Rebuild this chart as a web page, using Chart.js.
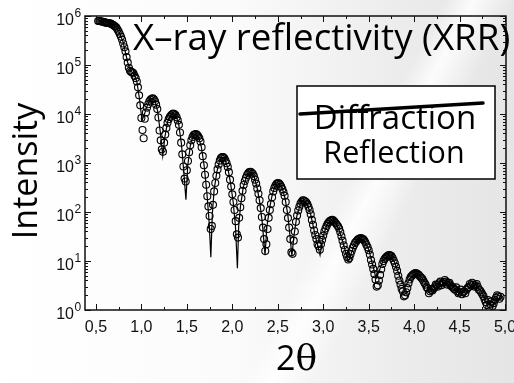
<!DOCTYPE html>
<html>
<head>
<meta charset="utf-8">
<title>X-ray reflectivity</title>
<script src="https://cdn.jsdelivr.net/npm/chart.js@4.4.1/dist/chart.umd.min.js"></script>
<style>
  html, body { margin: 0; padding: 0; }
  body {
    width: 514px;
    height: 383px;
    overflow: hidden;
    background:
      linear-gradient(118deg, rgba(255,255,255,0) 62%, rgba(255,255,255,0.85) 66%, rgba(255,255,255,0) 72%),
      linear-gradient(90deg, #ffffff 0%, #fbfbfb 45%, #ececec 78%, #e5e5e5 100%);
  }
  canvas { display: block; }
</style>
</head>
<body>
<canvas id="xrr" width="514" height="383"></canvas>
<script>
// measured reflectivity (open circles), one row per 0.1 deg
const twoTheta = [
  0.525, 0.5375, 0.55, 0.5625, 0.575, 0.5875, 0.6, 0.6125,
  0.625, 0.6375, 0.65, 0.6625, 0.675, 0.6875, 0.7, 0.7125,
  0.725, 0.7375, 0.75, 0.7625, 0.775, 0.7875, 0.8, 0.8125,
  0.825, 0.8375, 0.85, 0.8625, 0.875, 0.8875, 0.9, 0.9125,
  0.925, 0.9375, 0.95, 0.9625, 0.975, 0.9875, 1.0, 1.0125,
  1.025, 1.0375, 1.05, 1.0625, 1.075, 1.0875, 1.1, 1.1125,
  1.125, 1.1375, 1.15, 1.1625, 1.175, 1.1875, 1.2, 1.2125,
  1.225, 1.2375, 1.25, 1.2625, 1.275, 1.2875, 1.3, 1.3125,
  1.325, 1.3375, 1.35, 1.3625, 1.375, 1.3875, 1.4, 1.4125,
  1.425, 1.4375, 1.45, 1.4625, 1.475, 1.4875, 1.5, 1.5125,
  1.525, 1.5375, 1.55, 1.5625, 1.575, 1.5875, 1.6, 1.6125,
  1.625, 1.6375, 1.65, 1.6625, 1.675, 1.6875, 1.7, 1.7125,
  1.725, 1.7375, 1.75, 1.7625, 1.775, 1.7875, 1.8, 1.8125,
  1.825, 1.8375, 1.85, 1.8625, 1.875, 1.8875, 1.9, 1.9125,
  1.925, 1.9375, 1.95, 1.9625, 1.975, 1.9875, 2.0, 2.0125,
  2.025, 2.0375, 2.05, 2.0625, 2.075, 2.0875, 2.1, 2.1125,
  2.125, 2.1375, 2.15, 2.1625, 2.175, 2.1875, 2.2, 2.2125,
  2.225, 2.2375, 2.25, 2.2625, 2.275, 2.2875, 2.3, 2.3125,
  2.325, 2.3375, 2.35, 2.3625, 2.375, 2.3875, 2.4, 2.4125,
  2.425, 2.4375, 2.45, 2.4625, 2.475, 2.4875, 2.5, 2.5125,
  2.525, 2.5375, 2.55, 2.5625, 2.575, 2.5875, 2.6, 2.6125,
  2.625, 2.6375, 2.65, 2.6625, 2.675, 2.6875, 2.7, 2.7125,
  2.725, 2.7375, 2.75, 2.7625, 2.775, 2.7875, 2.8, 2.8125,
  2.825, 2.8375, 2.85, 2.8625, 2.875, 2.8875, 2.9, 2.9125,
  2.925, 2.9375, 2.95, 2.9625, 2.975, 2.9875, 3.0, 3.0125,
  3.025, 3.0375, 3.05, 3.0625, 3.075, 3.0875, 3.1, 3.1125,
  3.125, 3.1375, 3.15, 3.1625, 3.175, 3.1875, 3.2, 3.2125,
  3.225, 3.2375, 3.25, 3.2625, 3.275, 3.2875, 3.3, 3.3125,
  3.325, 3.3375, 3.35, 3.3625, 3.375, 3.3875, 3.4, 3.4125,
  3.425, 3.4375, 3.45, 3.4625, 3.475, 3.4875, 3.5, 3.5125,
  3.525, 3.5375, 3.55, 3.5625, 3.575, 3.5875, 3.6, 3.6125,
  3.625, 3.6375, 3.65, 3.6625, 3.675, 3.6875, 3.7, 3.7125,
  3.725, 3.7375, 3.75, 3.7625, 3.775, 3.7875, 3.8, 3.8125,
  3.825, 3.8375, 3.85, 3.8625, 3.875, 3.8875, 3.9, 3.9125,
  3.925, 3.9375, 3.95, 3.9625, 3.975, 3.9875, 4.0, 4.0125,
  4.025, 4.0375, 4.05, 4.0625, 4.075, 4.0875, 4.1, 4.1125,
  4.125, 4.1375, 4.15, 4.1625, 4.175, 4.1875, 4.2, 4.2125,
  4.225, 4.2375, 4.25, 4.2625, 4.275, 4.2875, 4.3, 4.3125,
  4.325, 4.3375, 4.35, 4.3625, 4.375, 4.3875, 4.4, 4.4125,
  4.425, 4.4375, 4.45, 4.4625, 4.475, 4.4875, 4.5, 4.5125,
  4.525, 4.5375, 4.55, 4.5625, 4.575, 4.5875, 4.6, 4.6125,
  4.625, 4.6375, 4.65, 4.6625, 4.675, 4.6875, 4.7, 4.7125,
  4.725, 4.7375, 4.75, 4.7625, 4.775, 4.7875, 4.8, 4.8125,
  4.825, 4.8375, 4.85, 4.8625, 4.875, 4.8875, 4.9, 4.9125,
  4.925, 4.9375, 4.95
];
const measured = [
  7.9e5, 7.9e5, 7.8e5, 7.7e5, 7.6e5, 7.5e5, 7.4e5, 7.3e5,
  7.2e5, 7.2e5, 7.1e5, 7.0e5, 6.8e5, 6.6e5, 6.3e5, 6.1e5,
  5.8e5, 5.3e5, 4.8e5, 4.3e5, 3.8e5, 3.3e5, 2.75e5, 2.3e5,
  1.9e5, 1.45e5, 1.12e5, 8.8e4, 7.6e4, 7.2e4, 7.1e4, 6.8e4,
  6.0e4, 5.4e4, 4.6e4, 3.5e4, 2.4e4, 1.5e4, 8.3e3, 4.7e3,
  3.2e3, 8.0e3, 1.07e4, 1.35e4, 1.58e4, 1.8e4, 1.95e4, 2.05e4,
  2.1e4, 2.0e4, 1.82e4, 1.55e4, 1.26e4, 8.5e3, 4.6e3, 2.9e3,
  1.9e3, 1.7e3, 2.6e3, 3.8e3, 5.2e3, 6.6e3, 7.8e3, 8.7e3,
  9.3e3, 9.9e3, 1.02e4, 1.0e4, 9.5e3, 8.6e3, 7.4e3, 6.0e3,
  4.2e3, 2.6e3, 1.5e3, 850, 480, 420, 710, 1.1e3,
  1.66e3, 2.3e3, 2.9e3, 3.4e3, 3.7e3, 3.85e3, 3.9e3, 3.75e3,
  3.5e3, 3.2e3, 2.75e3, 2.1e3, 1.38e3, 900, 575, 360,
  209, 130, 83, 45, 52, 140, 263, 390,
  550, 740, 933, 1.12e3, 1.26e3, 1.32e3, 1.32e3, 1.25e3,
  1.12e3, 990, 832, 650, 457, 330, 229, 160,
  110, 65, 35, 30, 76, 125, 191, 270,
  355, 430, 501, 570, 617, 650, 661, 640,
  603, 540, 457, 380, 302, 235, 174, 120,
  79, 48, 28, 16, 22, 45, 76, 110,
  145, 200, 263, 310, 347, 375, 389, 385,
  363, 330, 295, 255, 214, 160, 110, 75,
  48, 28, 15, 14, 26, 40, 63, 85,
  107, 128, 148, 162, 174, 172, 166, 158,
  145, 128, 110, 90, 69, 55, 42, 34,
  28, 22, 20, 17, 22, 27, 33, 40,
  46, 52, 58, 62, 66, 68, 69, 67,
  63, 59, 55, 51, 46, 39, 32, 26,
  21, 17, 14, 12, 10.7, 11.5, 13.8, 16,
  18.6, 21, 23.4, 25, 26.9, 28, 28.8, 29.5,
  28.8, 28, 26.3, 24, 21.4, 19, 16.6, 13.5,
  10.5, 8.5, 6.9, 5.4, 4.2, 3.0, 3.2, 4.0,
  5.2, 6.8, 8.7, 10, 11, 11.8, 12.3, 12.9,
  13.2, 13, 12.6, 11.5, 10.2, 9.0, 7.6, 6.3,
  5.0, 4.0, 3.3, 2.7, 2.4, 1.9, 2.0, 2.3,
  2.8, 3.5, 4.2, 4.7, 5.0, 5.3, 5.5, 5.7,
  5.6, 5.4, 5.2, 4.9, 4.6, 4.4, 4.0, 3.6,
  3.3, 2.9, 2.75, 2.2, 2.4, 2.6, 2.5, 2.7,
  2.9, 3.3, 3.2, 3.0, 3.5, 3.8, 3.2, 3.5,
  3.7, 4.1, 3.8, 3.3, 3.55, 3.6, 3.2, 3.0,
  2.9, 2.7, 2.6, 2.9, 2.4, 2.2, 2.3, 2.6,
  2.1, 2.3, 2.4, 2.2, 2.6, 2.8, 2.95, 3.4,
  3.2, 3.6, 3.3, 3.0, 3.2, 3.4, 2.95, 2.6,
  2.5, 2.3, 2.1, 1.9, 1.66, 1.45, 1.26, 1.6,
  1.1, 1.3, 1.5, 1.2, 1.38, 1.6, 1.78, 2.0,
  1.9, 1.7, 1.86
];

// simulated fit (solid line)
const fitTheta = [
  0.52, 0.6, 0.7, 0.75, 0.8, 0.85, 0.88, 0.92, 0.95, 0.98,
  1.0, 1.01, 1.03, 1.06, 1.09, 1.12, 1.15, 1.18, 1.21, 1.235,
  1.26, 1.29, 1.32, 1.35, 1.38, 1.41, 1.44, 1.465, 1.49, 1.51,
  1.54, 1.57, 1.6, 1.63, 1.66, 1.69, 1.72, 1.745, 1.764, 1.78,
  1.8, 1.83, 1.86, 1.89, 1.92, 1.95, 1.98, 2.01, 2.035, 2.056,
  2.07, 2.09, 2.12, 2.16, 2.2, 2.24, 2.27, 2.3, 2.33, 2.36,
  2.38, 2.41, 2.44, 2.47, 2.51, 2.55, 2.58, 2.61, 2.635, 2.655,
  2.68, 2.71, 2.75, 2.78, 2.82, 2.86, 2.9, 2.93, 2.965, 3.0,
  3.04, 3.09, 3.14, 3.18, 3.22, 3.25, 3.275, 3.3, 3.35, 3.4,
  3.45, 3.5, 3.54, 3.58, 3.62, 3.66, 3.72, 3.78, 3.83, 3.87,
  3.9, 3.94, 4.0, 4.04, 4.1, 4.16, 4.2, 4.26, 4.34, 4.4,
  4.48, 4.54, 4.62, 4.68, 4.74, 4.8, 4.86, 4.92, 4.96
];
const fitIntensity = [
  7.9e5, 7.6e5, 6.6e5, 5.0e5, 2.9e5, 1.12e5, 7.6e4, 6.6e4, 4.6e4, 2.0e4,
  9.5e3, 7.6e3, 9.5e3, 1.41e4, 1.86e4, 2.1e4, 1.86e4, 1.12e4, 4.0e3, 1.41e3,
  3.55e3, 7.1e3, 9.3e3, 1.02e4, 9.3e3, 6.3e3, 2.5e3, 710, 178, 891,
  2.4e3, 3.55e3, 3.9e3, 3.3e3, 2.1e3, 891, 251, 63, 12, 89,
  282, 661, 1.1e3, 1.32e3, 1.17e3, 794, 398, 158, 50, 7.1,
  50, 132, 316, 550, 661, 537, 331, 166, 60, 13.2,
  50, 120, 229, 339, 389, 302, 191, 89, 32, 12.6,
  35, 83, 148, 174, 148, 93, 42, 24, 13.2, 32,
  55, 69, 58, 40, 23, 14, 9.8, 13.2, 23, 29,
  26, 17.4, 8.9, 4.5, 6.6, 10.5, 13.2, 10, 5.5, 3.55,
  3.0, 4.0, 5.2, 5.5, 4.2, 2.8, 2.5, 3.0, 3.6, 3.2,
  2.5, 2.3, 2.9, 3.2, 2.4, 1.41, 1.2, 1.58, 1.78
];

// axis ticks
const xTicks = [0.5, 1.0, 1.5, 2.0, 2.5, 3.0, 3.5, 4.0, 4.5, 5.0];
const xTickLabels = ['0,5', '1,0', '1,5', '2,0', '2,5', '3,0', '3,5', '4,0', '4,5', '5,0'];
const yDecades = [0, 1, 2, 3, 4, 5, 6];
const yExponents = ['0', '1', '2', '3', '4', '5', '6'];

const titleText = 'X\u2013ray reflectivity (XRR)';
const boxStruck = 'Diffraction';
const boxLabel = 'Reflection';

const bigFont = '"Open Sans", "DejaVu Sans", sans-serif';
const tickFont = '"Liberation Sans", Arial, sans-serif';

// frame with inward ticks, tick labels, titles and the text box
const frame = {
  id: 'frame',
  afterDatasetsDraw(chart) {
    const { ctx, chartArea: a, scales: { x, y } } = chart;
    ctx.save();

    ctx.strokeStyle = '#111';
    ctx.lineWidth = 1.5;
    ctx.strokeRect(a.left, a.top, a.right - a.left, a.bottom - a.top);

    ctx.lineWidth = 1;
    ctx.beginPath();
    xTicks.forEach((v, i) => {
      const px = Math.round(x.getPixelForValue(v)) + 0.5;
      ctx.moveTo(px, a.bottom); ctx.lineTo(px, a.bottom - 6);
      ctx.moveTo(px, a.top); ctx.lineTo(px, a.top + 6);
      if (i < xTicks.length - 1) {
        const pm = Math.round(x.getPixelForValue((v + xTicks[i + 1]) / 2)) + 0.5;
        ctx.moveTo(pm, a.bottom); ctx.lineTo(pm, a.bottom - 3);
        ctx.moveTo(pm, a.top); ctx.lineTo(pm, a.top + 3);
      }
    });
    yDecades.forEach(d => {
      const base = Math.pow(10, d);
      const py = Math.round(y.getPixelForValue(base)) + 0.5;
      ctx.moveTo(a.left, py); ctx.lineTo(a.left + 6, py);
      ctx.moveTo(a.right, py); ctx.lineTo(a.right - 6, py);
      if (d < 6) {
        for (let k = 2; k <= 9; k++) {
          const pm = Math.round(y.getPixelForValue(k * base)) + 0.5;
          ctx.moveTo(a.left, pm); ctx.lineTo(a.left + 3, pm);
          ctx.moveTo(a.right, pm); ctx.lineTo(a.right - 3, pm);
        }
      }
    });
    ctx.stroke();

    // tick labels
    ctx.fillStyle = '#111';
    ctx.font = '16px ' + tickFont;
    ctx.textAlign = 'center';
    ctx.textBaseline = 'alphabetic';
    xTicks.forEach((v, i) => {
      ctx.fillText(xTickLabels[i], x.getPixelForValue(v), a.bottom + 22);
    });
    yDecades.forEach((d, i) => {
      const py = y.getPixelForValue(Math.pow(10, d));
      ctx.font = '16px ' + tickFont;
      ctx.textAlign = 'right';
      ctx.fillText('10', 74, py + 8.5);
      ctx.font = '12px ' + tickFont;
      ctx.textAlign = 'left';
      ctx.fillText(yExponents[i], 74.5, py + 1);
    });

    // axis titles
    ctx.fillStyle = '#000';
    ctx.save();
    ctx.translate(37, 171);
    ctx.rotate(-Math.PI / 2);
    ctx.textAlign = 'center';
    ctx.font = '34px ' + bigFont;
    ctx.fillText('Intensity', 0, 0);
    ctx.restore();

    const cx = (a.left + a.right) / 2;
    ctx.textAlign = 'right';
    ctx.font = '34px ' + bigFont;
    ctx.fillText('2', cx, 370);
    ctx.textAlign = 'left';
    ctx.font = '36px "DejaVu Serif", "Liberation Serif", serif';
    ctx.fillText('\u03b8', cx, 370);

    // heading across the top of the plot
    ctx.textAlign = 'left';
    ctx.font = '36.7px ' + bigFont;
    ctx.fillText(titleText, 133, 50);

    // boxed note
    ctx.fillStyle = '#fff';
    ctx.fillRect(297, 86, 198, 93);
    ctx.strokeStyle = '#000';
    ctx.lineWidth = 1.5;
    ctx.strokeRect(297, 86, 198, 93);
    ctx.fillStyle = '#000';
    ctx.textAlign = 'center';
    ctx.font = '33px ' + bigFont;
    ctx.fillText(boxStruck, 395, 129);
    ctx.font = '30.5px ' + bigFont;
    ctx.fillText(boxLabel, 394, 163);
    ctx.lineWidth = 3.5;
    ctx.lineCap = 'round';
    ctx.beginPath();
    ctx.moveTo(300, 114);
    ctx.lineTo(483, 103);
    ctx.stroke();

    ctx.restore();
  }
};

new Chart(document.getElementById('xrr'), {
  type: 'scatter',
  data: {
    datasets: [
      {
        label: 'fit',
        type: 'line',
        data: fitTheta.map((t, i) => ({ x: t, y: fitIntensity[i] })),
        borderColor: '#000',
        borderWidth: 1.2,
        pointRadius: 0,
        tension: 0,
        fill: false,
        order: 0
      },
      {
        label: 'measured',
        data: twoTheta.map((t, i) => ({ x: t, y: measured[i] })),
        pointRadius: 3.5,
        pointBorderWidth: 1.1,
        pointBorderColor: '#000',
        pointBackgroundColor: 'rgba(255,255,255,0)',
        showLine: false,
        order: 1
      }
    ]
  },
  options: {
    responsive: false,
    animation: false,
    layout: { padding: { left: 85, top: 16, right: 8, bottom: 73 } },
    plugins: { legend: { display: false }, tooltip: { enabled: false } },
    scales: {
      x: { type: 'linear', min: 0.38, max: 5.01, display: false },
      y: { type: 'logarithmic', min: 1, max: 1e6, display: false }
    }
  },
  plugins: [frame]
});
</script>
</body>
</html>
